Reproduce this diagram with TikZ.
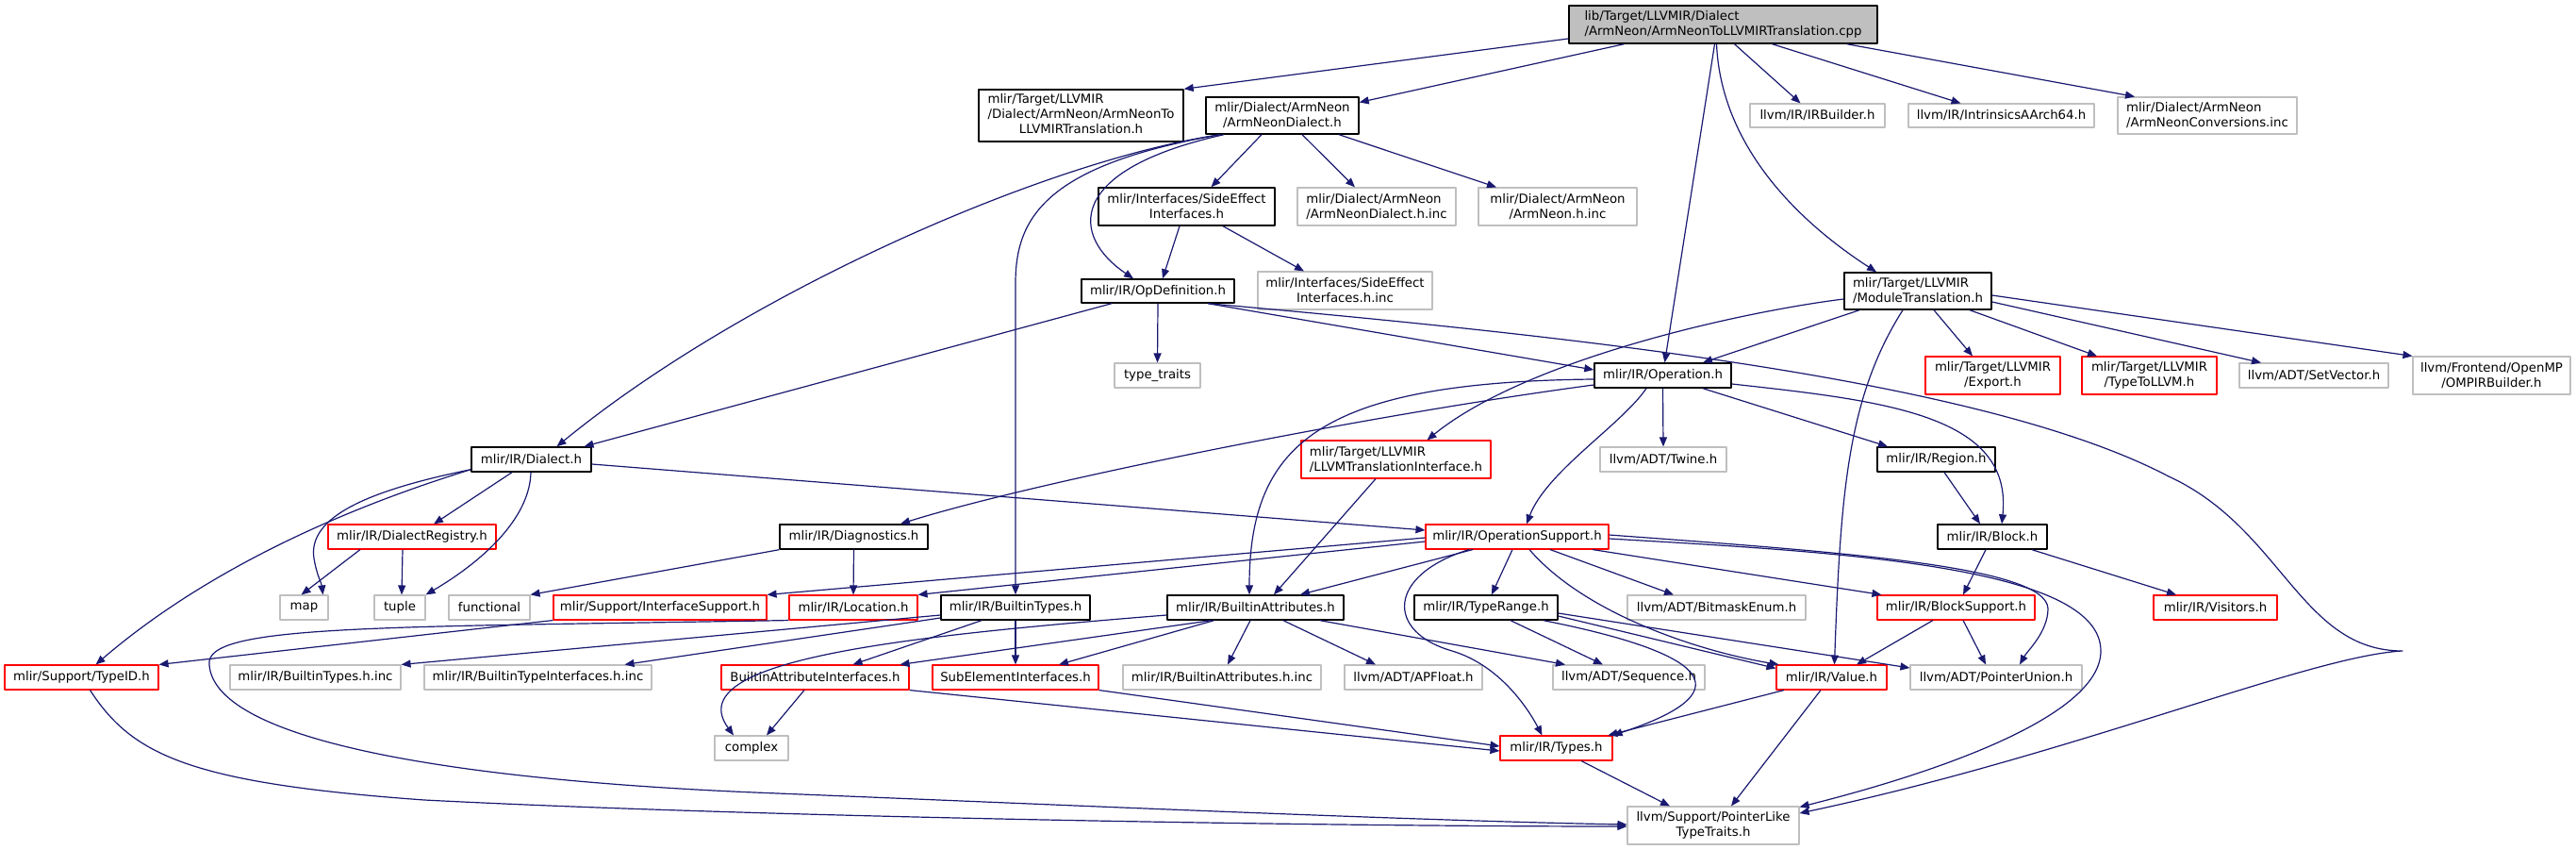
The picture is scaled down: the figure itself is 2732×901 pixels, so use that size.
\documentclass[tikz,border=0pt]{standalone}
\usepackage{fontspec}
\setmainfont{DejaVu Sans}
\usetikzlibrary{arrows.meta}
\definecolor{edgeblue}{HTML}{191970}
\definecolor{extgray}{HTML}{BFBFBF}

\begin{document}
\begin{tikzpicture}[
	x=1pt,
	y=-1pt,
	font=\fontsize{13.3}{16}\selectfont,
	line join=round,
	wh/.style 2 args={minimum width=#1pt, minimum height=#2pt},
	box/.style={rectangle, inner sep=0pt, line width=1.1pt, fill=white, align=center},
	doc/.style={box, draw=black, line width=1.4pt},
	ext/.style={box, draw=extgray},
	cut/.style={box, draw=red},
	src/.style={box, draw=black, fill=extgray, line width=1.4pt},
	dep/.style={draw=edgeblue, line width=1.2pt, -{Triangle[length=10pt,width=8pt]}}
	]
	
	\useasboundingbox (0,0) rectangle (2732,901);
	
	%------------------------------
	% Files, one row per rank
	%------------------------------
	\node[src, align=left, wh={327}{40}] (root) at (1827.5,26) {lib/Target/LLVMIR/Dialect\\/ArmNeon/ArmNeonToLLVMIRTranslation.cpp};
	
	\node[doc, wh={217}{55}] (ANT) at (1146.5,122.5) {\begin{tabular}{@{}c@{}}\multicolumn{1}{@{}l@{}}{mlir/Target/LLVMIR}\\/Dialect/ArmNeon/ArmNeonTo\\LLVMIRTranslation.h\end{tabular}};
	\node[doc, wh={162}{39}] (AND) at (1360,122.5) {mlir/Dialect/ArmNeon\\/ArmNeonDialect.h};
	\node[ext, wh={143}{25}] (IRB) at (1927.5,122.5) {llvm/IR/IRBuilder.h};
	\node[ext, wh={197}{25}] (INT) at (2122.5,122.5) {llvm/IR/IntrinsicsAArch64.h};
	\node[ext, align=left, wh={190}{39}] (CONV) at (2341,122.5) {mlir/Dialect/ArmNeon\\/ArmNeonConversions.inc};
	
	\node[doc, wh={187}{40}] (SEI) at (1258.5,219) {mlir/Interfaces/SideEffect\\Interfaces.h};
	\node[ext, align=left, wh={168}{40}] (ANDinc) at (1460,219) {mlir/Dialect/ArmNeon\\/ArmNeonDialect.h.inc};
	\node[ext, wh={168}{40}] (ANhinc) at (1652,219) {mlir/Dialect/ArmNeon\\/ArmNeon.h.inc};
	
	\node[doc, wh={162}{25}] (OD) at (1228,308.5) {mlir/IR/OpDefinition.h};
	\node[ext, wh={185}{40}] (SEIinc) at (1426.5,308) {mlir/Interfaces/SideEffect\\Interfaces.h.inc};
	\node[doc, align=left, wh={156}{39}] (MT) at (2034,308.5) {mlir/Target/LLVMIR\\/ModuleTranslation.h};
	
	\node[ext, wh={91}{26}] (TT) at (1227.5,398) {type\_traits};
	\node[doc, wh={145}{26}] (OP) at (1763.5,398) {mlir/IR/Operation.h};
	\node[cut, wh={143}{40}] (EXP) at (2113.5,398) {mlir/Target/LLVMIR\\/Export.h};
	\node[cut, wh={143}{40}] (T2L) at (2279.5,398) {mlir/Target/LLVMIR\\/TypeToLLVM.h};
	\node[ext, wh={158}{26}] (SETV) at (2454,398) {llvm/ADT/SetVector.h};
	\node[ext, wh={167}{40}] (OMP) at (2642.5,398) {llvm/Frontend/OpenMP\\/OMPIRBuilder.h};
	
	\node[doc, wh={127}{26}] (DI) at (563.5,487) {mlir/IR/Dialect.h};
	\node[cut, align=left, wh={201}{40}] (LTI) at (1480.5,487) {mlir/Target/LLVMIR\\/LLVMTranslationInterface.h};
	\node[ext, wh={134}{26}] (TW) at (1764,487) {llvm/ADT/Twine.h};
	\node[doc, wh={125}{26}] (REG) at (2053.5,487) {mlir/IR/Region.h};
	
	\node[cut, wh={178}{26}] (DR) at (437,569) {mlir/IR/DialectRegistry.h};
	\node[doc, wh={157}{26}] (DIAG) at (905.5,569) {mlir/IR/Diagnostics.h};
	\node[cut, wh={194}{26}] (OS) at (1609,569) {mlir/IR/OperationSupport.h};
	\node[doc, wh={116}{26}] (BLK) at (2113,569) {mlir/IR/Block.h};
	
	\node[ext, wh={51}{26}] (map) at (322.5,644) {map};
	\node[ext, wh={54}{26}] (tuple) at (424,644) {tuple};
	\node[ext, wh={86}{26}] (func) at (519,644) {functional};
	\node[cut, wh={226}{26}] (IFS) at (700,644) {mlir/Support/InterfaceSupport.h};
	\node[cut, wh={136}{26}] (LOC) at (905,644) {mlir/IR/Location.h};
	\node[doc, wh={158}{26}] (BT) at (1077,644) {mlir/IR/BuiltinTypes.h};
	\node[doc, wh={187}{26}] (BA) at (1331.5,644) {mlir/IR/BuiltinAttributes.h};
	\node[doc, wh={152}{26}] (TR) at (1576,644) {mlir/IR/TypeRange.h};
	\node[ext, wh={189}{26}] (BME) at (1820.5,644) {llvm/ADT/BitmaskEnum.h};
	\node[cut, wh={167}{26}] (BS) at (2074.5,644) {mlir/IR/BlockSupport.h};
	\node[cut, wh={131}{26}] (VIS) at (2349.5,644) {mlir/IR/Visitors.h};
	
	\node[cut, wh={163}{26}] (TID) at (86.5,718) {mlir/Support/TypeID.h};
	\node[ext, wh={181}{26}] (BTinc) at (334.5,718) {mlir/IR/BuiltinTypes.h.inc};
	\node[ext, wh={241}{26}] (BTIinc) at (570.5,718) {mlir/IR/BuiltinTypeInterfaces.h.inc};
	\node[cut, wh={199}{26}] (BAI) at (864.5,718) {BuiltinAttributeInterfaces.h};
	\node[cut, wh={176}{26}] (SUB) at (1077,718) {SubElementInterfaces.h};
	\node[ext, wh={210}{26}] (BAinc) at (1296,718) {mlir/IR/BuiltinAttributes.h.inc};
	\node[ext, wh={146}{26}] (APF) at (1499,718) {llvm/ADT/APFloat.h};
	\node[ext, wh={161}{26}] (SEQ) at (1727.5,718) {llvm/ADT/Sequence.h};
	\node[cut, wh={117}{26}] (VAL) at (1942.5,718) {mlir/IR/Value.h};
	\node[ext, wh={182}{26}] (PU) at (2117,718) {llvm/ADT/PointerUnion.h};
	
	\node[ext, wh={78}{26}] (CPX) at (797,793) {complex};
	\node[cut, wh={119}{26}] (TYP) at (1650.5,793) {mlir/IR/Types.h};
	
	\node[ext, wh={182}{40}] (PLT) at (1817,875) {llvm/Support/PointerLike\\TypeTraits.h};
	
	%------------------------------
	% Includes of the source file
	%------------------------------
	\draw[dep] ([yshift=-15pt]root.west) -- (ANT.north east);
	\draw[dep] ([xshift=-105pt]root.south) -- ([yshift=14pt]AND.east);
	\draw[dep] ([xshift=-9pt]root.south) -- ([xshift=2pt]OP.north);
	\draw[dep] ([xshift=-7pt]root.south) .. controls (1825,150) and (1900,230) .. ([xshift=-44pt]MT.north);
	\draw[dep] ([xshift=12pt]root.south) -- ([xshift=-18pt]IRB.north);
	\draw[dep] ([xshift=52pt]root.south) -- ([xshift=-43pt]INT.north);
	\draw[dep] ([xshift=-33pt]root.south east) -- ([xshift=-77pt]CONV.north);
	
	%------------------------------
	% Dialect headers
	%------------------------------
	\draw[dep] ([xshift=-66pt]AND.south) .. controls (1110,170) and (790,310) .. ([xshift=27pt]DI.north);
	\draw[dep] ([xshift=-66pt]AND.south) .. controls (1110,175) and (1077,230) .. (1077,300) -- (BT.north);
	\draw[dep] ([xshift=-62pt]AND.south) .. controls (1130,180) and (1135,250) .. ([xshift=-26pt]OD.north);
	\draw[dep] ([xshift=-22pt]AND.south) -- ([xshift=26pt]SEI.north);
	\draw[dep] ([xshift=21pt]AND.south) -- ([xshift=-23pt]ANDinc.north);
	\draw[dep] ([xshift=60pt]AND.south) -- ([xshift=-65pt]ANhinc.north);
	
	\draw[dep] ([xshift=-7.5pt]SEI.south) -- ([xshift=5pt]OD.north);
	\draw[dep] ([xshift=38.5pt]SEI.south) -- ([xshift=-43.5pt]SEIinc.north);
	
	\draw[dep] ([xshift=-49pt]OD.south) -- ([xshift=56pt]DI.north);
	\draw[dep] (OD.south) -- (TT.north);
	\draw[dep] ([xshift=53pt]OD.south) -- ([yshift=6pt]OP.west);
	% long way round to the traits header
	\coordinate (turn) at (2548,690);
	\draw[dep] ([xshift=53pt]OD.south) .. controls (1650,355) and (2100,400) .. (2300,505)
		.. controls (2420,560) and (2440,690) .. (turn)
		.. controls (2450,695) and (2200,800) .. ([yshift=13pt]PLT.east);
	
	%------------------------------
	% Module translation
	%------------------------------
	\draw[dep] ([xshift=-62pt]MT.south) -- ([xshift=42.5pt]OP.north);
	\draw[dep] ([yshift=-8.5pt]MT.west) .. controls (1850,330) and (1620,380) .. ([xshift=33pt]LTI.north);
	\draw[dep] ([xshift=-16pt]MT.south) .. controls (1960,420) and (1952,520) .. ([xshift=3pt]VAL.north);
	\draw[dep] ([xshift=17pt]MT.south) -- ([xshift=-21.5pt]EXP.north);
	\draw[dep] ([xshift=55pt]MT.south) -- ([xshift=-55.5pt]T2L.north);
	\draw[dep] ([yshift=-11.5pt]MT.east) -- ([xshift=-56pt]SETV.north);
	\draw[dep] ([yshift=-4.5pt]MT.east) -- (OMP.north west);
	
	%------------------------------
	% Operation.h
	%------------------------------
	\draw[dep] ([yshift=-10pt]OP.west) .. controls (1450,440) and (1100,510) .. ([xshift=49.5pt]DIAG.north);
	\draw[dep] ([yshift=-4pt]OP.west) .. controls (1400,405) and (1325,470) .. ([xshift=-6.5pt]BA.north);
	\draw[dep] (OP.south) -- (TW.north);
	\draw[dep] ([xshift=-17.5pt]OP.south) .. controls (1720,450) and (1640,500) .. ([xshift=10pt]OS.north);
	\draw[dep] ([xshift=42.5pt]OP.south) -- ([xshift=-51.5pt]REG.north);
	\draw[dep] ([yshift=-9pt]OP.east) .. controls (2000,425) and (2135,440) .. ([xshift=10pt]BLK.north);
	
	\draw[dep] ([xshift=-21.5pt]LTI.south) -- ([xshift=19.5pt]BA.north);
	
	%------------------------------
	% Dialect.h and below
	%------------------------------
	\draw[dep] ([xshift=-20.5pt]DI.south) -- ([xshift=23pt]DR.north);
	\draw[dep] ([xshift=-0.5pt]DI.south) .. controls (562,545) and (520,590) .. (tuple.north east);
	\draw[dep] ([yshift=3pt]DI.south west) .. controls (390,520) and (326,548) .. (333,592)
		.. controls (336,610) and (341,618) .. ([xshift=20pt]map.north);
	\draw[dep] ([yshift=3pt]DI.south west) .. controls (330,550) and (200,620) .. ([xshift=15pt]TID.north);
	\draw[dep] ([yshift=-5pt]DI.east) -- ([yshift=7pt]OS.west);
	
	\draw[dep] ([xshift=-55pt]DR.south) -- ([xshift=-3pt]map.north);
	\draw[dep] ([xshift=-10pt]DR.south) -- ([xshift=2pt]tuple.north);
	
	\draw[dep] (DIAG.south west) -- (func.north east);
	\draw[dep] (DIAG.south) -- (LOC.north);
	
	%------------------------------
	% OperationSupport.h
	%------------------------------
	\draw[dep] ([yshift=-1pt]OS.west) -- (IFS.north east);
	\draw[dep] ([yshift=-5pt]OS.west) -- (LOC.north east);
	\draw[dep] ([xshift=-47pt]OS.south) -- ([xshift=47.5pt]BA.north);
	\draw[dep] ([xshift=-5pt]OS.south) -- ([xshift=6pt]TR.north);
	\draw[dep] ([xshift=-51pt]OS.south) .. controls (1470,610) and (1470,670) .. (1540,690)
		.. controls (1590,705) and (1620,750) .. ([xshift=-15pt]TYP.north);
	\draw[dep] ([xshift=35pt]OS.south) -- ([xshift=-45.5pt]BME.north);
	\draw[dep] ([xshift=80pt]OS.south) -- ([xshift=5pt]BS.north west);
	\draw[dep] ([yshift=2pt]OS.east) .. controls (1950,585) and (2170,600) .. (2172,645)
		.. controls (2172,670) and (2150,690) .. ([xshift=25pt]PU.north);
	\draw[dep] ([yshift=-2pt]OS.east) .. controls (1950,585) and (2228,600) .. (2228,690)
		.. controls (2228,760) and (2050,820) .. ([yshift=-1pt]PLT.north east);
	\draw[dep] ([xshift=13pt]OS.south) .. controls (1680,650) and (1800,690) .. ([xshift=3pt]VAL.north west);
	
	%------------------------------
	% TypeRange.h, BuiltinAttributes.h, BuiltinTypes.h
	%------------------------------
	\draw[dep] ([xshift=26pt]TR.south) -- ([xshift=-27.5pt]SEQ.north);
	\draw[dep] ([yshift=-9pt]TR.east) -- ([yshift=-4pt]VAL.north west);
	\draw[dep] ([yshift=-6pt]TR.east) -- ([yshift=10pt]PU.west);
	\draw[dep] ([xshift=61pt]TR.south) .. controls (1800,690) and (1860,730) .. (TYP.north east);
	
	\draw[dep] ([yshift=-8pt]BA.west) .. controls (950,675) and (720,700) .. ([xshift=-19pt]CPX.north);
	\draw[dep] ([xshift=-47pt]BA.south) -- ([xshift=90pt]BAI.north);
	\draw[dep] ([xshift=-44pt]BA.south) -- ([xshift=46pt]SUB.north);
	\draw[dep] ([xshift=-5.5pt]BA.south) -- ([xshift=6pt]BAinc.north);
	\draw[dep] ([xshift=29.5pt]BA.south) -- ([xshift=-40pt]APF.north);
	\draw[dep] ([xshift=68.5pt]BA.south) -- ([xshift=-67.5pt]SEQ.north);
	
	\draw[dep] ([yshift=-8pt]BT.west) -- (BTinc.north east);
	\draw[dep] ([yshift=-11pt]BT.west) -- ([xshift=92pt]BTIinc.north);
	\draw[dep] ([xshift=-36pt]BT.south) -- ([xshift=40pt]BAI.north);
	\draw[dep] (BT.south) -- (SUB.north);
	
	%------------------------------
	% Support headers down to the traits
	%------------------------------
	\draw[dep] (IFS.south west) -- (TID.north east);
	\draw[dep] (LOC.south west) .. controls (400,665) and (215,662) .. (222,705)
		.. controls (228,780) and (450,825) .. (800,840)
		.. controls (1100,852) and (1500,870) .. ([yshift=1pt]PLT.west);
	\draw[dep] ([xshift=9pt]TID.south) .. controls (140,800) and (200,830) .. (450,848)
		.. controls (800,866) and (1400,876) .. ([yshift=-1pt]PLT.west);
	
	\draw[dep] ([xshift=-11.5pt]BAI.south) -- ([xshift=16pt]CPX.north);
	\draw[dep] (BAI.south east) -- ([yshift=-3pt]TYP.west);
	\draw[dep] (SUB.south east) -- ([yshift=2pt]TYP.west);
	
	\draw[dep] ([xshift=26.5pt]TYP.south) -- ([xshift=-46pt]PLT.north);
	\draw[dep] ([xshift=-11.5pt]VAL.south) -- ([xshift=19pt]PLT.north);
	\draw[dep] ([xshift=-50.5pt]VAL.south) -- ([xshift=55pt]TYP.north);
	
	%------------------------------
	% Region, Block
	%------------------------------
	\draw[dep] ([xshift=8.5pt]REG.south) -- ([xshift=-13pt]BLK.north);
	\draw[dep] ([xshift=-7pt]BLK.south) -- ([xshift=7.5pt]BS.north);
	\draw[dep] ([xshift=42pt]BLK.south) -- ([xshift=-41.5pt]VIS.north);
	\draw[dep] ([xshift=-24.5pt]BS.south) -- ([xshift=26.5pt]VAL.north);
	\draw[dep] ([xshift=7.5pt]BS.south) -- ([xshift=-11pt]PU.north);
	
\end{tikzpicture}
\end{document}
